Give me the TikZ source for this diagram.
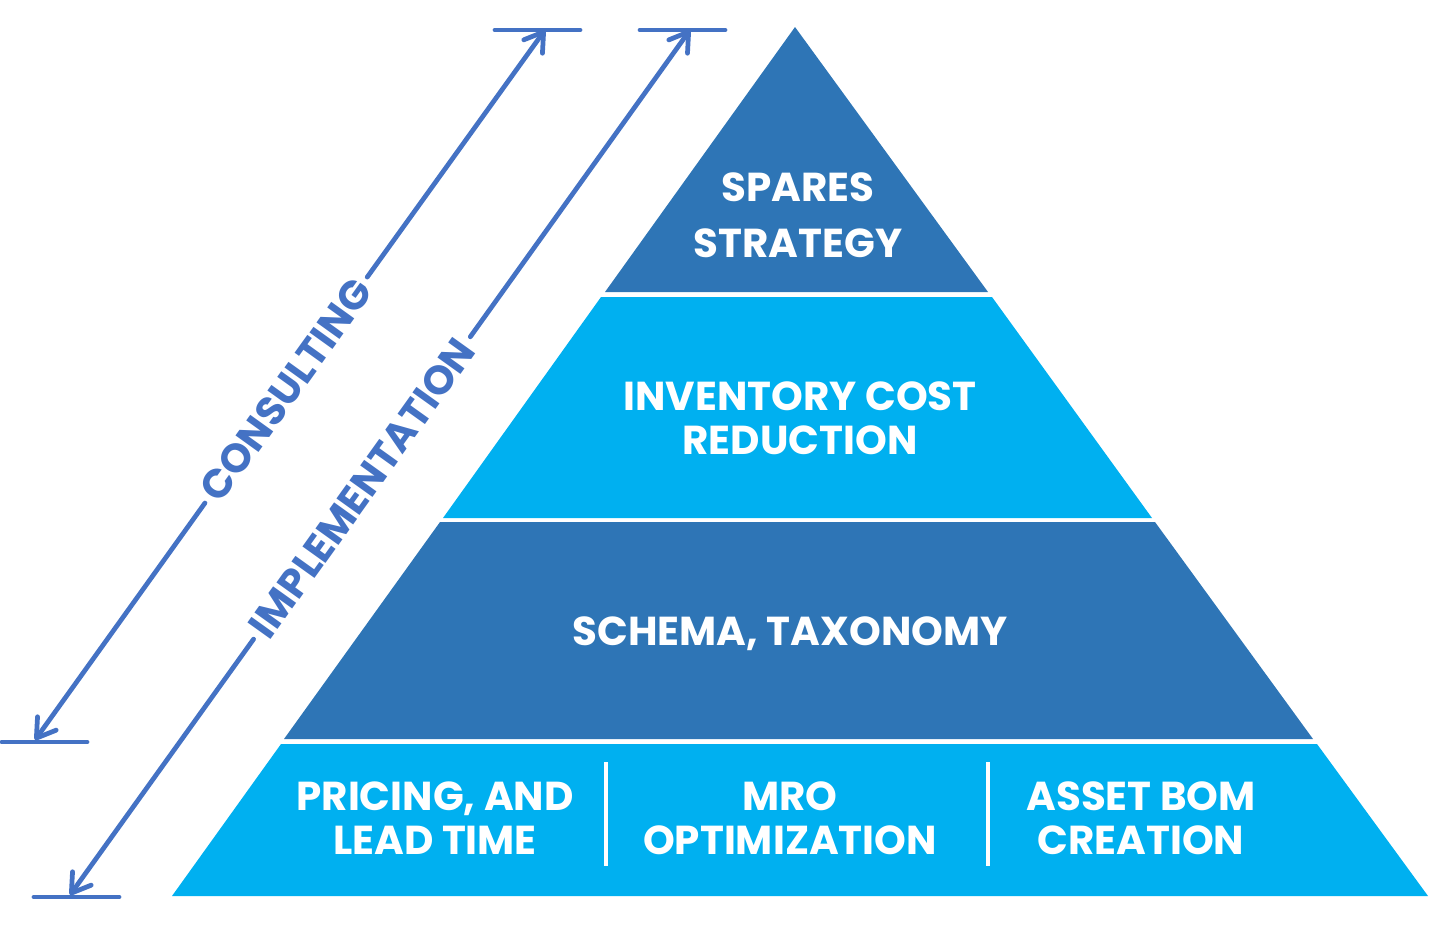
\documentclass[tikz,border=0pt]{standalone}
\usepackage{fontspec}
\setmainfont{Poppins}
\usetikzlibrary{arrows.meta, positioning, calc}
\definecolor{darkband}{HTML}{2E75B6}
\definecolor{lightband}{HTML}{00B0F0}
\definecolor{scaleblue}{HTML}{4472C4}

\begin{document}
\begin{tikzpicture}[
    x=0.02cm, y=-0.02cm,
    % Text on the pyramid bands
    band text/.style={text=white, align=center, inner sep=0pt,
                      font=\fontsize{23}{25}\selectfont\bfseries},
    % Scale arrows along the left side
    scale arrow/.style={-{Straight Barb[length=0.36cm, width=0.46cm, round]},
                        line width=0.095cm, scaleblue, line cap=round},
    scale bar/.style={line width=0.095cm, scaleblue, line cap=round},
    scale label/.style={text=scaleblue, inner xsep=0.15cm, inner ysep=0pt,
                        font=\fontsize{23}{24}\selectfont\bfseries},
    divider/.style={white, line width=0.08cm}
]

\useasboundingbox (0,0) rectangle (1429,924);

% === PYRAMID BANDS ===

% Top: spares strategy
\fill[darkband] (795,27) -- (988,292) -- (605,292) -- cycle;
% Second: inventory cost
\fill[lightband] (601,297) -- (992,297) -- (1152,518) -- (443,518) -- cycle;
% Third: schema
\fill[darkband] (440,522) -- (1155,522) -- (1313,739) -- (284,739) -- cycle;
% Base
\fill[lightband] (281,744) -- (1317,744) -- (1428,896) -- (172,896) -- cycle;

% === BAND LABELS ===

\node[band text, font=\fontsize{23}{32}\selectfont\bfseries] (spares) at (798,215) {SPARES\\STRATEGY};
\node[band text] (inventory) at (800,418) {INVENTORY COST\\REDUCTION};
\node[band text] (schema) at (790,634) {SCHEMA, TAXONOMY};
\node[band text] (pricing) at (435,818) {PRICING, AND\\LEAD TIME};
\node[band text] (mro) at (790,818) {MRO\\OPTIMIZATION};
\node[band text] (asset) at (1141,818) {ASSET BOM\\CREATION};

% Dividers in the base band
\coordinate (divAtop) at (606,762);
\coordinate (divAbot) at (606,866);
\coordinate (divBtop) at (988,762);
\coordinate (divBbot) at (988,866);
\draw[divider] (divAtop) -- (divAbot);
\draw[divider] (divBtop) -- (divBbot);

% === SCALE ARROWS ===

% Consulting
\coordinate (consTop) at (545,30);
\coordinate (consBot) at (35,740);
\coordinate (consTopL) at (495,30);
\coordinate (consTopR) at (580,30);
\coordinate (consBotL) at (2,742);
\coordinate (consBotR) at (87,742);
\node[scale label, rotate=54.3] (consulting) at (286,390) {CONSULTING};
\draw[scale arrow] (consulting) -- (consTop);
\draw[scale arrow] (consulting) -- (consBot);
\draw[scale bar] (consTopL) -- (consTopR);
\draw[scale bar] (consBotL) -- (consBotR);

% Implementation
\coordinate (implTop) at (690,30);
\coordinate (implBot) at (70,895);
\coordinate (implTopL) at (640,30);
\coordinate (implTopR) at (725,30);
\coordinate (implBotL) at (34,897);
\coordinate (implBotR) at (119,897);
\node[scale label, rotate=54.4] (implementation) at (362,488) {IMPLEMENTATION};
\draw[scale arrow] (implementation) -- (implTop);
\draw[scale arrow] (implementation) -- (implBot);
\draw[scale bar] (implTopL) -- (implTopR);
\draw[scale bar] (implBotL) -- (implBotR);

\end{tikzpicture}
\end{document}
